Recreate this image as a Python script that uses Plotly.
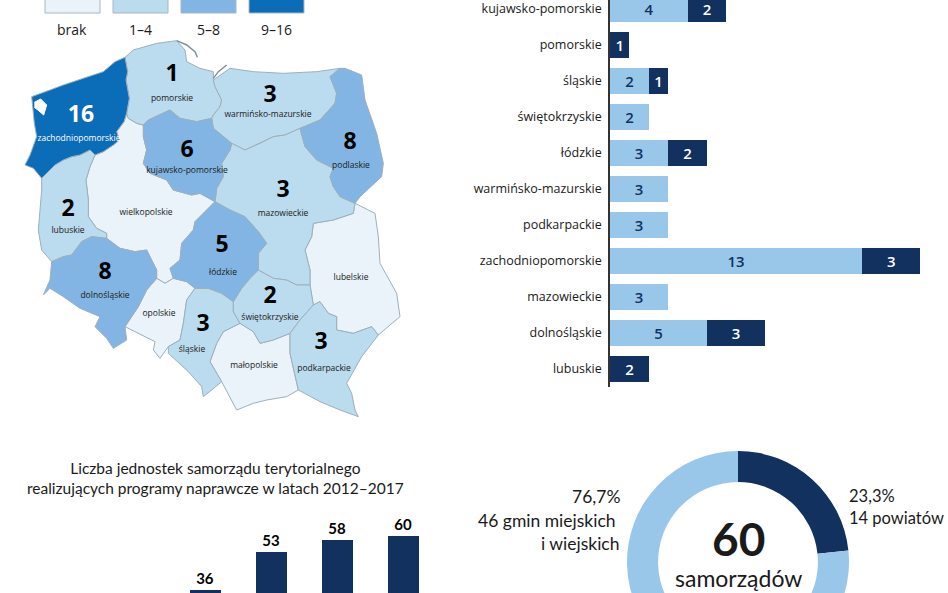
import plotly.graph_objs as go


WIDTH = 948
HEIGHT = 680   # окно 593, нижняя часть графика уходит за край
SCALE = 3      # единиц карты на пиксель

LEGEND_LABELS = ['brak', '1–4', '5–8', '9–16']
LEGEND_COLORS = ['#E9F3F9', '#BBDBEE', '#82B5E3', '#0B6CB7']

BAR_REGIONS = ['kujawsko-pomorskie', 'pomorskie', 'śląskie', 'świętokrzyskie', 'łódzkie', 'warmińsko-mazurskie',
               'podkarpackie', 'zachodniopomorskie', 'mazowieckie', 'dolnośląskie', 'lubuskie']
BAR_LIGHT = [4, None, 2, 2, 3, 3, 3, 13, 3, 5, None]
BAR_DARK = [2, 1, 1, None, 2, None, None, 3, None, 3, 2]

YEARS = [2014, 2015, 2016, 2017]
UNITS = [36, 53, 58, 60]

DONUT_LABELS = ['14 powiatów', '46 gmin miejskich i wiejskich']
DONUT_VALUES = [14, 46]

LIGHT = '#98C7EA'
DARK = '#12315F'
TEXT = '#1A1A1A'

ZACH = [(375, 172), (383, 215), (378, 240), (388, 295), (380, 340), (372, 365), (350, 395), (358, 420), (340, 435),
        (310, 455), (285, 465), (270, 450), (240, 465), (215, 470), (190, 480), (165, 495), (150, 510), (125, 535),
        (100, 505), (75, 495), (90, 465), (110, 410), (103, 370), (100, 330), (95, 290), (150, 270), (190, 255),
        (250, 235), (310, 215), (345, 185)]
POMO = [(375, 172), (400, 150), (470, 130), (530, 122), (555, 150), (560, 185), (600, 205), (640, 215), (640, 240),
        (645, 260), (665, 300), (660, 320), (640, 345), (635, 355), (590, 365), (540, 355), (510, 330), (480, 345),
        (445, 360), (430, 375), (410, 370), (385, 355), (380, 340), (388, 295), (378, 240), (383, 215)]
WARM = [(640, 240), (690, 205), (760, 215), (850, 220), (950, 215), (1020, 205), (990, 230), (1010, 280), (1005, 310),
        (960, 360), (900, 385), (855, 405), (820, 410), (780, 430), (735, 450), (695, 430), (640, 385), (635, 355),
        (640, 345), (660, 320), (665, 300), (645, 260)]
PODL = [(1020, 205), (1035, 205), (1085, 225), (1095, 300), (1130, 400), (1150, 490), (1145, 530), (1100, 570),
        (1080, 590), (1065, 610), (1020, 590), (1000, 560), (990, 530), (1000, 505), (950, 480), (915, 440), (900, 385),
        (960, 360), (1005, 310), (1010, 280), (990, 230)]
KUJA = [(510, 330), (540, 355), (590, 365), (635, 355), (640, 385), (695, 430), (690, 450), (665, 490), (670, 530),
        (650, 565), (645, 605), (600, 580), (575, 585), (520, 570), (500, 540), (450, 520), (430, 490), (440, 450),
        (430, 410), (430, 375), (445, 360), (480, 345)]
MAZO = [(695, 430), (735, 450), (780, 430), (820, 410), (855, 405), (900, 385), (915, 440), (950, 480), (1000, 505),
        (990, 530), (1000, 560), (1020, 590), (1065, 610), (1060, 640), (1000, 660), (940, 670), (935, 710), (915, 750),
        (930, 810), (930, 855), (890, 855), (860, 840), (820, 835), (775, 810), (775, 760), (800, 730), (775, 695),
        (735, 650), (690, 630), (645, 605), (650, 565), (670, 530), (665, 490), (690, 450)]
LODZ = [(645, 605), (690, 630), (735, 650), (775, 695), (800, 730), (775, 760), (775, 810), (750, 835), (725, 865),
        (700, 905), (665, 880), (625, 865), (585, 865), (560, 845), (520, 835), (510, 805), (540, 780), (545, 730),
        (580, 690), (585, 665), (615, 635)]
WIEL = [(380, 340), (385, 355), (410, 370), (430, 375), (430, 410), (440, 450), (430, 490), (450, 520), (500, 540),
        (520, 570), (575, 585), (600, 580), (645, 605), (615, 635), (585, 665), (580, 690), (545, 730), (540, 780),
        (510, 805), (520, 835), (495, 850), (470, 835), (470, 810), (440, 750), (405, 755), (360, 745), (320, 715),
        (320, 700), (290, 685), (265, 650), (265, 600), (258, 540), (270, 500), (285, 465), (310, 455), (340, 435),
        (358, 420), (350, 395), (372, 365)]
LUBU = [(285, 465), (270, 500), (258, 540), (265, 600), (265, 650), (290, 685), (320, 700), (320, 715), (275, 710),
        (245, 725), (215, 765), (190, 770), (155, 785), (125, 750), (115, 690), (125, 570), (125, 535), (150, 510),
        (165, 495), (190, 480), (215, 470), (240, 465), (270, 450)]
DOLN = [(275, 710), (320, 715), (360, 745), (405, 755), (440, 750), (470, 810), (470, 835), (440, 870), (415, 920),
        (375, 980), (380, 1020), (340, 1045), (320, 1015), (285, 980), (300, 950), (240, 925), (190, 890), (150, 865),
        (130, 885), (150, 840), (155, 785), (190, 770), (215, 765), (245, 725)]
OPOL = [(470, 835), (495, 850), (520, 835), (560, 845), (585, 865), (560, 900), (550, 970), (540, 1020), (505, 1040),
        (480, 1075), (460, 1050), (465, 1025), (435, 1010), (375, 980), (415, 920), (440, 870)]
SLAS = [(585, 865), (625, 865), (665, 880), (700, 905), (700, 935), (720, 970), (670, 995), (650, 1030), (630, 1085),
        (665, 1145), (635, 1170), (610, 1190), (605, 1160), (565, 1115), (505, 1060), (505, 1040), (540, 1020),
        (550, 970), (560, 900)]
SWIE = [(775, 810), (820, 835), (860, 840), (890, 855), (930, 855), (940, 915), (900, 960), (870, 1000), (820, 1020),
        (780, 1030), (760, 995), (720, 970), (700, 935), (700, 905), (725, 865), (750, 835)]
MALO = [(720, 970), (760, 995), (780, 1030), (820, 1020), (870, 1000), (870, 1060), (895, 1170), (860, 1190),
        (800, 1200), (760, 1210), (710, 1230), (690, 1190), (665, 1145), (630, 1085), (650, 1030), (670, 995)]
PODK = [(940, 915), (960, 905), (985, 940), (1010, 950), (1010, 990), (1060, 1000), (1115, 980), (1135, 1005),
        (1085, 1070), (1040, 1150), (1055, 1180), (1065, 1230), (1075, 1250), (1020, 1230), (960, 1205), (895, 1170),
        (870, 1060), (870, 1000), (900, 960)]
LUBE = [(1065, 610), (1125, 640), (1135, 710), (1140, 790), (1190, 880), (1200, 950), (1170, 975), (1135, 1005),
        (1115, 980), (1060, 1000), (1010, 990), (1010, 950), (985, 940), (960, 905), (940, 915), (930, 855), (930, 810),
        (915, 750), (935, 710), (940, 670), (1000, 660), (1060, 640)]
LAGOON = [(103, 307), (122, 297), (140, 315), (131, 345), (116, 332), (103, 322)]
HEL = [(530, 122), (560, 135), (585, 155), (592, 172)]
MIERZEJA = [(640, 235), (655, 215), (680, 195)]

MAP_POLYGONS = [WIEL, LUBE, OPOL, MALO, POMO, WARM, LUBU, MAZO, SLAS, SWIE, PODK, KUJA, LODZ, DOLN, PODL, ZACH]
MAP_COUNTS = [0, 0, 0, 0, 1, 3, 2, 3, 3, 2, 3, 6, 5, 8, 8, 16]

LABEL_NAMES = ['zachodniopomorskie', 'pomorskie', 'warmińsko-mazurskie', 'podlaskie', 'kujawsko-pomorskie',
               'mazowieckie', 'wielkopolskie', 'lubuskie', 'łódzkie', 'dolnośląskie', 'lubelskie', 'opolskie',
               'śląskie', 'świętokrzyskie', 'małopolskie', 'podkarpackie']
LABEL_NAME_X = [237, 516, 804, 1053, 561, 849, 438, 204, 669, 315, 1053, 477, 576, 810, 762, 972]
LABEL_NAME_Y = [417, 297, 345, 498, 513, 642, 639, 693, 819, 888, 834, 942, 1050, 954, 1098, 1107]
LABEL_COUNTS = [16, 1, 3, 8, 6, 3, None, 2, 5, 8, None, None, 3, 2, None, 3]
LABEL_COUNT_X = [243, 516, 810, 1050, 561, 849, 0, 204, 666, 315, 0, 0, 609, 810, 0, 963]
LABEL_COUNT_Y = [348, 225, 288, 429, 453, 573, 0, 630, 738, 819, 0, 0, 975, 891, 0, 1029]


def class_color(count):
    """
    Возвращает цвет класса, к которому принадлежит воеводство
    """
    if count == 0:
        return LEGEND_COLORS[0]
    if count <= 4:
        return LEGEND_COLORS[1]
    if count <= 8:
        return LEGEND_COLORS[2]
    return LEGEND_COLORS[3]


fig = go.Figure()

for polygon, count in zip(MAP_POLYGONS, MAP_COUNTS):
    fig.add_trace(go.Scatter(x=[p[0] for p in polygon] + [polygon[0][0]], y=[p[1] for p in polygon] + [polygon[0][1]],
                             mode='lines', fill='toself', fillcolor=class_color(count),
                             line=dict(color='#9DB0BC', width=1), showlegend=False, xaxis='x', yaxis='y'))

fig.add_trace(go.Scatter(x=[p[0] for p in LAGOON], y=[p[1] for p in LAGOON], mode='lines', fill='toself',
                         fillcolor='white', line=dict(color='white', width=1), showlegend=False, xaxis='x', yaxis='y'))
for line in [HEL, MIERZEJA]:
    fig.add_trace(go.Scatter(x=[p[0] for p in line], y=[p[1] for p in line], mode='lines',
                             line=dict(color='#7F919C', width=1.5), showlegend=False, xaxis='x', yaxis='y'))

fig.add_trace(go.Scatter(x=LABEL_NAME_X, y=LABEL_NAME_Y, mode='text', text=LABEL_NAMES, showlegend=False,
                         textfont=dict(family='Open Sans', size=8.5, color=['white'] + [TEXT] * 15),
                         xaxis='x', yaxis='y'))
fig.add_trace(go.Scatter(x=LABEL_COUNT_X, y=LABEL_COUNT_Y, mode='text', text=LABEL_COUNTS, showlegend=False,
                         textfont=dict(family='Open Sans', size=23, color=['white'] + ['black'] * 15, weight='bold'),
                         xaxis='x', yaxis='y'))

# столбики по воеводствам
fig.add_trace(go.Bar(y=BAR_REGIONS, x=BAR_LIGHT, orientation='h', marker=dict(color=LIGHT, line_width=0), text=BAR_LIGHT,
                     textposition='inside', insidetextanchor='middle', textangle=0, showlegend=False,
                     textfont=dict(family='Open Sans', size=18, color=DARK, weight=600), xaxis='x2', yaxis='y2'))
fig.add_trace(go.Bar(y=BAR_REGIONS, x=BAR_DARK, orientation='h', marker=dict(color=DARK, line_width=0), text=BAR_DARK,
                     textposition='inside', insidetextanchor='middle', textangle=0, showlegend=False,
                     textfont=dict(family='Open Sans', size=18, color='white', weight=600), xaxis='x2', yaxis='y2'))

# столбики по годам
fig.add_trace(go.Bar(x=YEARS, y=UNITS, marker=dict(color=DARK, line_width=0), text=UNITS, textposition='outside',
                     cliponaxis=False, width=0.47, showlegend=False,
                     textfont=dict(family='Lato', size=15, color='black', weight='bold'),
                     xaxis='x3', yaxis='y3'))

fig.add_trace(go.Pie(labels=DONUT_LABELS, values=DONUT_VALUES, hole=0.72, sort=False, direction='clockwise', rotation=0,
                     marker=dict(colors=[DARK, LIGHT], line_width=0), textinfo='none', showlegend=False,
                     domain=dict(x=[627 / WIDTH, 849 / WIDTH], y=[1 - 673 / HEIGHT, 1 - 451 / HEIGHT])))

for i, name in enumerate(LEGEND_LABELS):
    fig.add_shape(type='rect', xref='x', yref='y', x0=(45 + 68 * i) * SCALE, x1=(100 + 68 * i) * SCALE, y0=-30, y1=39,
                  fillcolor=LEGEND_COLORS[i], line=dict(color='#A9B8C2', width=1))
    fig.add_annotation(xref='x', yref='y', x=(72 + 68 * i) * SCALE, y=87, text=name, showarrow=False,
                       font=dict(family='Open Sans', size=14, color=TEXT))

notes = [
    (645, 1434, 'center', 'Liczba jednostek samorządu terytorialnego<br>realizujących programy naprawcze w latach 2012–2017', 15.5),
    (1866, 1488, 'right', '76,7%', 17.5),
    (1854, 1560, 'right', '46 gmin miejskich', 17.5),
    (1866, 1629, 'right', 'i wiejskich', 17.5),
    (2541, 1488, 'left', '23,3%', 16.5),
    (2541, 1554, 'left', '14 powiatów', 16.5),
    (2214, 1614, 'center', '<b>60</b>', 46),
    (2214, 1734, 'center', 'samorządów', 23),
]
for x, y, anchor, text, size in notes:
    fig.add_annotation(xref='x', yref='y', x=x, y=y, xanchor=anchor, text=text, showarrow=False,
                       font=dict(family='Lato', size=size, color=TEXT))

fig.update_layout(width=WIDTH, height=HEIGHT, margin=dict(l=0, t=0, b=0, r=0), paper_bgcolor='white',
                  plot_bgcolor='rgba(0,0,0,0)', barmode='stack', bargap=0.28,
                  xaxis=dict(domain=[0, 1], range=[0, WIDTH * SCALE], visible=False),
                  yaxis=dict(domain=[0, 1], range=[HEIGHT * SCALE, 0], visible=False),
                  xaxis2=dict(domain=[610 / WIDTH, 1], range=[0, 17.42], visible=False),
                  yaxis2=dict(domain=[1 - 387 / HEIGHT, 1], anchor='x2', type='category', range=[10.5, -0.25],
                              showgrid=False, showline=True, linecolor='#333333', linewidth=1.5, ticks='',
                              ticklabelstandoff=4, tickfont=dict(family='Open Sans', size=12.5, color=TEXT)),
                  xaxis3=dict(domain=[0, 440 / WIDTH], range=[2010.894, 2017.56], visible=False),
                  yaxis3=dict(domain=[1 - 671 / HEIGHT, 1 - 430 / HEIGHT], anchor='x3', range=[0, 107], visible=False))

fig.write_html('out.html', config=dict(displayModeBar=False),
               post_script="document.documentElement.style.overflow='hidden';document.body.style.margin='0';document.body.style.overflow='hidden';")
